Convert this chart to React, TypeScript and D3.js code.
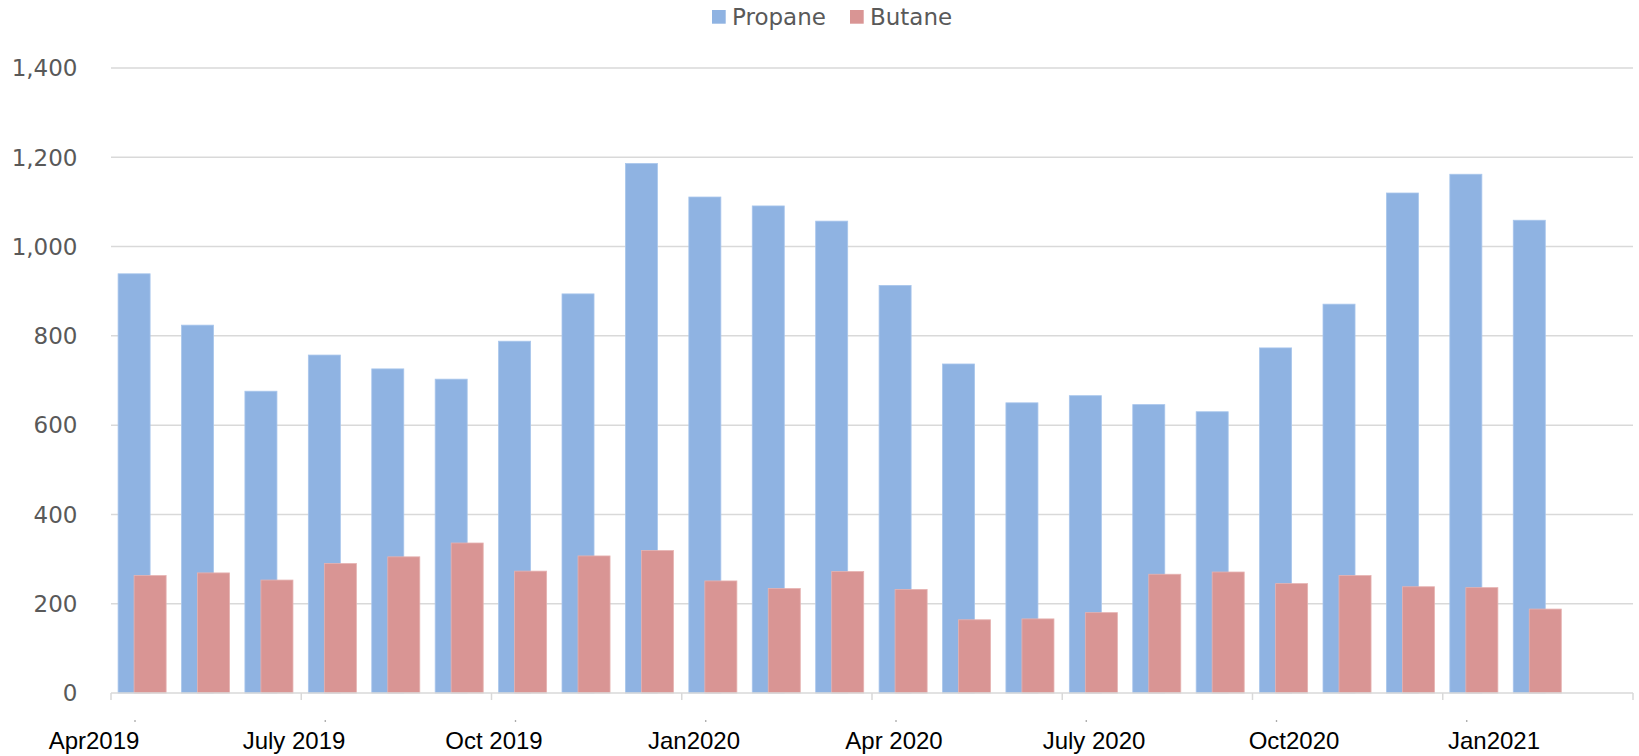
import React from "react";
import * as d3 from "d3";

const months = [
  "2019-04","2019-05","2019-06","2019-07","2019-08","2019-09","2019-10","2019-11","2019-12",
  "2020-01","2020-02","2020-03","2020-04","2020-05","2020-06","2020-07","2020-08","2020-09",
  "2020-10","2020-11","2020-12","2021-01","2021-02","2021-03",
];
const propane = [939, 824, 676, 757, 726, 703, 788, 894, 1186, 1111, 1091, 1057, 913, 737, 650, 666, 646, 630, 773, 871, 1120, 1162, 1059];
const butane = [263, 269, 253, 290, 305, 336, 273, 307, 319, 251, 234, 272, 232, 164, 166, 180, 266, 271, 245, 263, 238, 236, 188];
const quarterLabels = ["Apr2019", "July 2019", "Oct 2019", "Jan2020", "Apr 2020", "July 2020", "Oct2020", "Jan2021"];
const yTicks = [0, 200, 400, 600, 800, 1000, 1200, 1400];
const seriesNames = ["Propane", "Butane"];

const W = 1639;
const H = 756;
const COLORS = ["#8FB3E2", "#D99594"];
const STROKES = ["#A9C6EC", "#E6B2B1"];

export default function App() {
  const x = d3.scaleBand<string>().domain(months).range([111, 1633]).padding(0);
  const y = d3.scaleLinear().domain([0, 1400]).range([693, 68]);
  const bw = x.bandwidth() * 0.505;
  const groupW = bw * 1.5;
  const off = (x.bandwidth() - groupW) / 2 - 0.6;
  const lx = d3.scalePoint<string>().domain(quarterLabels).range([94, 1494]);
  const quarterTicks = months.filter((_, i) => i % 3 === 0);
  const [x0, x1] = x.range();

  const series = [propane, butane];

  return (
    <svg width={W} height={H} style={{ position: "absolute", left: 0, top: 0, background: "#fff" }}>
      {/* gridlines */}
      {yTicks.filter((t) => t > 0).map((t) => (
        <line key={t} x1={x0} x2={x1} y1={y(t)} y2={y(t)} stroke="#D9D9D9" strokeWidth={1.5} />
      ))}
      {/* y labels */}
      {yTicks.map((t) => (
        <text
          key={"yl" + t}
          x={77.5}
          y={y(t)}
          dy="0.36em"
          textAnchor="end"
          fontFamily="'DejaVu Sans', Verdana, sans-serif"
          fontSize={23}
          fill="#595959"
        >
          {d3.format(",")(t)}
        </text>
      ))}
      {/* bars */}
      {series.map((vals, si) =>
        vals.map((v, i) => (
          <rect
            key={si + "-" + i}
            x={(x(months[i]) as number) + off + si * bw * 0.5}
            y={y(v)}
            width={bw}
            height={y(0) - y(v)}
            fill={COLORS[si]}
            stroke={STROKES[si]}
            strokeWidth={0.8}
          />
        ))
      )}
      {/* x axis */}
      <line x1={x0} x2={x1} y1={y(0)} y2={y(0)} stroke="#D9D9D9" strokeWidth={1.5} />
      {[...quarterTicks.map((m) => x(m) as number), x1].map((px, i) => (
        <line key={"t" + i} x1={px} x2={px} y1={y(0)} y2={y(0) + 7} stroke="#D9D9D9" strokeWidth={1.5} />
      ))}
      {quarterTicks.map((m, i) => (
        <circle key={"d" + i} cx={(x(m) as number) + 24} cy={721} r={0.8} fill="#7F7F7F" />
      ))}
      {/* x labels */}
      {quarterLabels.map((l) => (
        <text
          key={l}
          x={lx(l)}
          y={748.5}
          textAnchor="middle"
          fontFamily="'Liberation Sans', Arial, sans-serif"
          fontSize={24}
          fill="#000"
        >
          {l}
        </text>
      ))}
      {/* legend */}
      {seriesNames.map((n, i) => {
        const lxPos = [712, 850][i];
        return (
          <g key={n}>
            <rect x={lxPos} y={10} width={13.7} height={13.7} fill={COLORS[i]} />
            <text
              x={lxPos + 20}
              y={17}
              dy="0.36em"
              fontFamily="'DejaVu Sans', Verdana, sans-serif"
              fontSize={23}
              fill="#595959"
            >
              {n}
            </text>
          </g>
        );
      })}
    </svg>
  );
}
